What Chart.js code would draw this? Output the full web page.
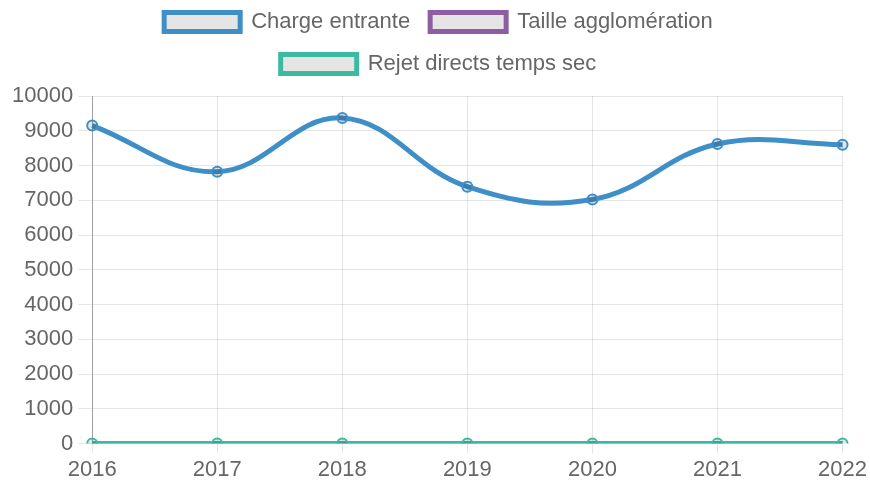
<!DOCTYPE html>
<html>
<head>
<meta charset="utf-8">
<script src="https://cdn.jsdelivr.net/npm/chart.js@4"></script>
<style>
body { margin: 0; background: #fff; }
#wrap { width: 870px; height: 486px; }
</style>
</head>
<body>
<div id="wrap"><canvas id="cv"></canvas></div>
<script>
// données du graphique
const annees = ["2016", "2017", "2018", "2019", "2020", "2021", "2022"];
const chargeEntrante = [9150, 7820, 9370, 7390, 7020, 8620, 8600];
const tailleAgglo = [null, null, null, null, null, null, null];
const rejetSec = [0, 0, 0, 0, 0, 0, 0];

Chart.defaults.font.family = "Arial, 'Liberation Sans', Helvetica, sans-serif";
Chart.defaults.font.size = 22;
Chart.defaults.color = "#666";

function serie(label, data, couleur) {
    return {
        label: label,
        data: data,
        borderColor: couleur,
        backgroundColor: "rgba(0,0,0,0.1)",
        borderWidth: 5,
        pointRadius: 5,
        pointBorderWidth: 2,
        tension: 0.4,
        fill: false
    };
}

// un peu d'espace sous la légende
const espaceLegende = {
    id: "espaceLegende",
    beforeInit(chart) {
        const fitOrig = chart.legend.fit;
        chart.legend.fit = function () {
            fitOrig.bind(chart.legend)();
            this.height += 11;
        };
    }
};

new Chart(document.getElementById("cv").getContext("2d"), {
    type: "line",
    data: {
        labels: annees,
        datasets: [
            serie("Charge entrante", chargeEntrante, "#3e8ec8"),
            serie("Taille agglomération", tailleAgglo, "#8e5ea2"),
            serie("Rejet directs temps sec", rejetSec, "#3cba9f")
        ]
    },
    plugins: [espaceLegende],
    options: {
        responsive: true,
        maintainAspectRatio: false,
        animation: false,
        layout: { padding: { top: -9, left: 7, right: 0 } },
        plugins: {
            legend: {
                labels: { boxWidth: 76, boxHeight: 19, padding: 20 }
            },
            tooltip: { enabled: false }
        },
        scales: {
            x: {
                grid: { color: "rgba(0,0,0,0.1)", tickLength: 10 },
                border: { color: "rgba(0,0,0,0.1)" },
                ticks: { maxRotation: 0 }
            },
            y: {
                min: 0,
                max: 10000,
                ticks: { stepSize: 1000, padding: 5, callback: (v) => String(v) },
                grid: { color: "rgba(0,0,0,0.1)", tickLength: 14 },
                border: { color: "rgba(0,0,0,0.3)" }
            }
        }
    }
});
</script>
</body>
</html>
